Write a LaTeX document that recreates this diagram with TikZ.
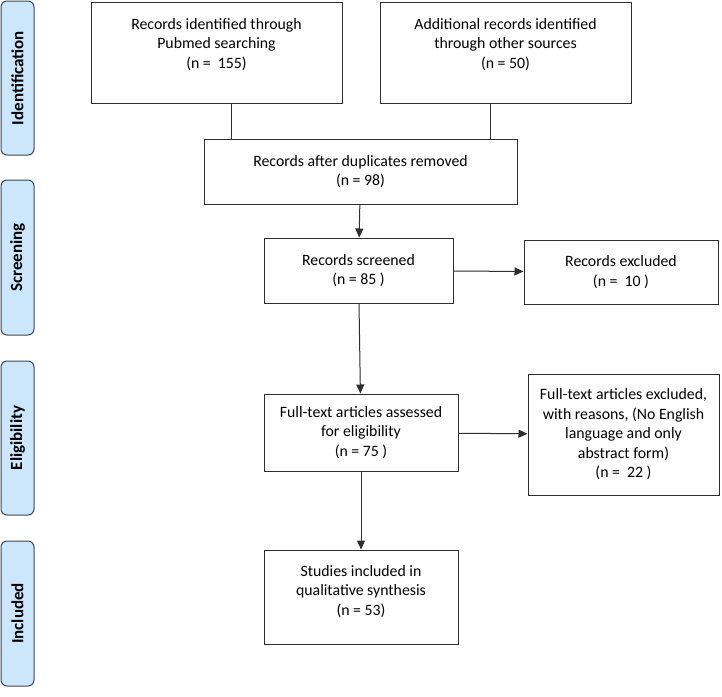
\documentclass[tikz,border=0pt]{standalone}
\usepackage{fontspec}
\setmainfont{Carlito}
\usepackage{tikz}
\usetikzlibrary{arrows.meta}
\definecolor{tabblue}{HTML}{CCE7FC}
\definecolor{tabedge}{HTML}{3B4650}
\definecolor{lineg}{HTML}{2E2E2E}
\tikzset{box/.style = {draw = lineg, line width = 1pt, align = center, inner sep = 4pt, font = \fontsize{15.8}{19.5}\selectfont},
  phase/.style = {draw = tabedge, fill = tabblue, line width = 1pt, rounded corners = 6pt, rotate = 90, minimum height = 33pt, inner sep = 0, font = \bfseries\fontsize{17}{20}\selectfont},
  arr/.style = {draw = lineg, line width = 1pt, -{Triangle[length = 9pt, width = 8pt]}}}

\begin{document}
\begin{tikzpicture}[x=1pt, y=-1pt]
    \useasboundingbox (0, 0) rectangle (722, 696);
    % phases on the left
    \node (idn) at (17.5, 78) [phase, minimum width = 154pt] {Identification};
    \node (scn) at (17.5, 257.5) [phase, minimum width = 155pt] {Screening};
    \node (elg) at (17.5, 438) [phase, minimum width = 154pt] {Eligibility};
    \node (inl) at (17.5, 613.5) [phase, minimum width = 145pt] {Included};
    % boxes
    \node (pub) at (216.5, 52.5) [box, minimum width = 251pt, text height = 62pt, text depth = 31pt] {Records identified through\\Pubmed searching\\(n = ~155)};
    \node (oth) at (505.5, 52.5) [box, minimum width = 251pt, text height = 62pt, text depth = 31pt] {Additional records identified\\through other sources\\(n = 50)};
    \node (dup) at (360.5, 171.5) [box, minimum width = 313pt, minimum height = 65pt] {Records after duplicates removed\\(n = 98)};
    \node (scr) at (358.5, 270.5) [box, minimum width = 189pt, minimum height = 65pt] {Records screened\\(n = 85 )};
    \node (exc) at (621, 272) [box, minimum width = 194pt, minimum height = 64pt] {Records excluded\\(n = ~10 )};
    \node (ft) at (361, 432.5) [box, minimum width = 194pt, minimum height = 77pt] {Full-text articles assessed\\for eligibility\\(n = 75 )};
    \node (ftx) at (623.5, 434.5) [box, minimum width = 191pt, minimum height = 121pt] {Full-text articles excluded,\\with reasons, (No English\\language and only\\abstract form)\\(n = ~22 )};
    \node (inc) at (361, 597) [box, minimum width = 194pt, text height = 61pt, text depth = 25pt] {Studies included in\\qualitative synthesis\\(n = 53)};
    % connectors
    \draw [draw = lineg, line width = 1pt] ([xshift = 28pt]dup.north west |- pub.south) -- ([xshift = 28pt]dup.north west);
    \draw [draw = lineg, line width = 1pt] ([xshift = -27pt]dup.north east |- oth.south) -- ([xshift = -27pt]dup.north east);
    \draw [arr] (dup) -- (scr);
    \draw [arr] (scr) -- (exc);
    \draw [arr] (scr) -- (ft);
    \draw [arr] (ft) -- (ftx);
    \draw [arr] (ft) -- (inc);
  \end{tikzpicture}
\end{document}
